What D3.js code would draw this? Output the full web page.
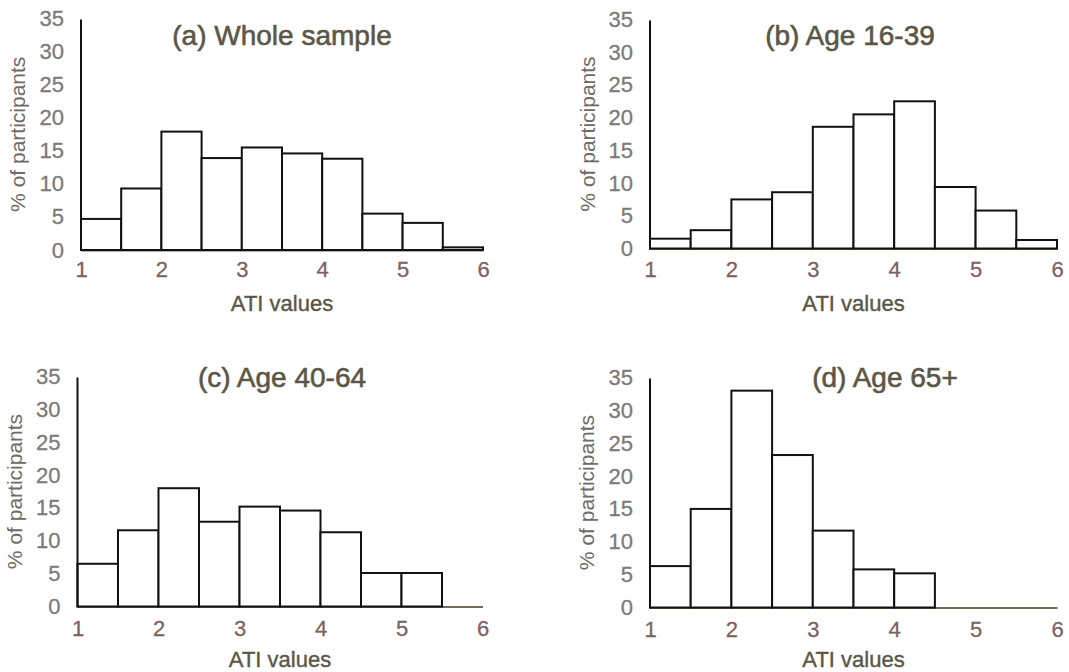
<!DOCTYPE html>
<html>
<head>
<meta charset="utf-8">
<script src="https://cdn.jsdelivr.net/npm/d3@7"></script>
<style>
  body { margin: 0; background: #fff; }
  svg { display: block; font-family: "Liberation Sans", Arial, sans-serif; }
</style>
</head>
<body>
<script>
"use strict";

// bins of ATI values, each 0.5 wide
const binStarts = [1, 1.5, 2, 2.5, 3, 3.5, 4, 4.5, 5, 5.5];
const binWidth = 0.5;

// % of participants per bin
const wholeSample = [4.7, 9.3, 17.9, 13.9, 15.5, 14.6, 13.8, 5.5, 4.1, 0.4];
const age16to39 = [1.5, 2.8, 7.5, 8.6, 18.6, 20.5, 22.5, 9.4, 5.8, 1.3];
const age40to64 = [6.5, 11.6, 18.0, 12.9, 15.2, 14.6, 11.3, 5.1, 5.1, 0];
const age65plus = [6.3, 15.0, 33.0, 23.2, 11.7, 5.8, 5.2, 0, 0, 0];

const titles = ["(a) Whole sample", "(b) Age 16-39", "(c) Age 40-64", "(d) Age 65+"];
const xTicks = [1, 2, 3, 4, 5, 6];
const yTicks = [0, 5, 10, 15, 20, 25, 30, 35];

const width = 1069;
const height = 672;

// where each panel sits on the page
const panels = [
  {values: wholeSample, x0: 81, x1: 483, y0: 250, y1: 18.5, titleX: 282, titleY: 35, labelX: 17, xTickY: 269, xLabelY: 303},
  {values: age16to39, x0: 650, x1: 1057, y0: 248.5, y1: 19.5, titleX: 850, titleY: 35, labelX: 587, xTickY: 269, xLabelY: 303},
  {values: age40to64, x0: 77.5, x1: 482.5, y0: 606.5, y1: 376.5, titleX: 282, titleY: 377, labelX: 14, xTickY: 628, xLabelY: 659},
  {values: age65plus, x0: 650, x1: 1057, y0: 607.5, y1: 377.5, titleX: 885, titleY: 377, labelX: 586, xTickY: 629, xLabelY: 659}
];

let svg = d3.select("body").append("svg")
    .attr("width", width)
    .attr("height", height);

panels.forEach(function(p, i) {
    let x = d3.scaleLinear().domain([1, 6]).range([p.x0, p.x1]);
    let y = d3.scaleLinear().domain([0, 35]).range([p.y0, p.y1]);

    let g = svg.append("g");

    // y tick labels
    let yAxis = g.append("g")
        .attr("transform", "translate(" + p.x0 + ",0)")
        .call(d3.axisLeft(y).tickValues(yTicks).tickSize(0).tickPadding(17));
    yAxis.select(".domain").remove();
    yAxis.selectAll("text")
        .attr("font-size", 22)
        .attr("font-family", "Liberation Sans, Arial, sans-serif")
        .attr("fill", "#7b7b7b")
        .attr("stroke", "#7b7b7b")
        .attr("stroke-width", 0.3);

    // x axis: baseline and tick labels
    let xAxis = g.append("g")
        .attr("transform", "translate(0," + p.y0 + ")")
        .call(d3.axisBottom(x).tickValues(xTicks).tickFormat(d3.format("d")).tickSize(0).tickPadding(0));
    xAxis.select(".domain")
        .attr("stroke", "#6f6a55")
        .attr("stroke-width", 2);
    xAxis.selectAll("text")
        .attr("font-size", 22)
        .attr("font-family", "Liberation Sans, Arial, sans-serif")
        .attr("fill", "#7d6262")
        .attr("stroke", "#7d6262")
        .attr("stroke-width", 0.3)
        .attr("dy", null)
        .attr("y", p.xTickY - p.y0)
        .attr("dominant-baseline", "central");

    // histogram bars
    g.selectAll("rect.bar")
        .data(p.values.map(function(v, j) { return {x: binStarts[j], v: v}; })
            .filter(function(d) { return d.v > 0; }))
        .enter()
        .append("rect")
        .attr("class", "bar")
        .attr("x", function(d) { return x(d.x); })
        .attr("width", function(d) { return x(d.x + binWidth) - x(d.x); })
        .attr("y", function(d) { return y(d.v); })
        .attr("height", function(d) { return y(0) - y(d.v); })
        .style("fill", "#fff")
        .style("stroke", "#111")
        .style("stroke-width", 2);

    // y axis line
    g.append("line")
        .attr("x1", p.x0).attr("x2", p.x0)
        .attr("y1", y(35) + 1).attr("y2", y(0) + 1)
        .attr("stroke", "#111")
        .attr("stroke-width", 2);

    // title
    g.append("text")
        .attr("x", p.titleX)
        .attr("y", p.titleY)
        .attr("text-anchor", "middle")
        .attr("dominant-baseline", "central")
        .attr("font-size", 28)
        .attr("fill", "#5b5747")
        .attr("stroke", "#5b5747")
        .attr("stroke-width", 0.6)
        .text(titles[i]);

    // x axis title
    g.append("text")
        .attr("x", (p.x0 + p.x1) / 2)
        .attr("y", p.xLabelY)
        .attr("text-anchor", "middle")
        .attr("dominant-baseline", "central")
        .attr("font-size", 22)
        .attr("fill", "#5b5747")
        .attr("stroke", "#5b5747")
        .attr("stroke-width", 0.4)
        .text("ATI values");

    // y axis title
    g.append("text")
        .attr("transform", "translate(" + p.labelX + "," + (y(0) + y(35)) / 2 + ") rotate(-90)")
        .attr("text-anchor", "middle")
        .attr("dominant-baseline", "central")
        .attr("font-size", 21)
        .attr("fill", "#6e6b66")
        .text("% of participants");
});
</script>
</body>
</html>
